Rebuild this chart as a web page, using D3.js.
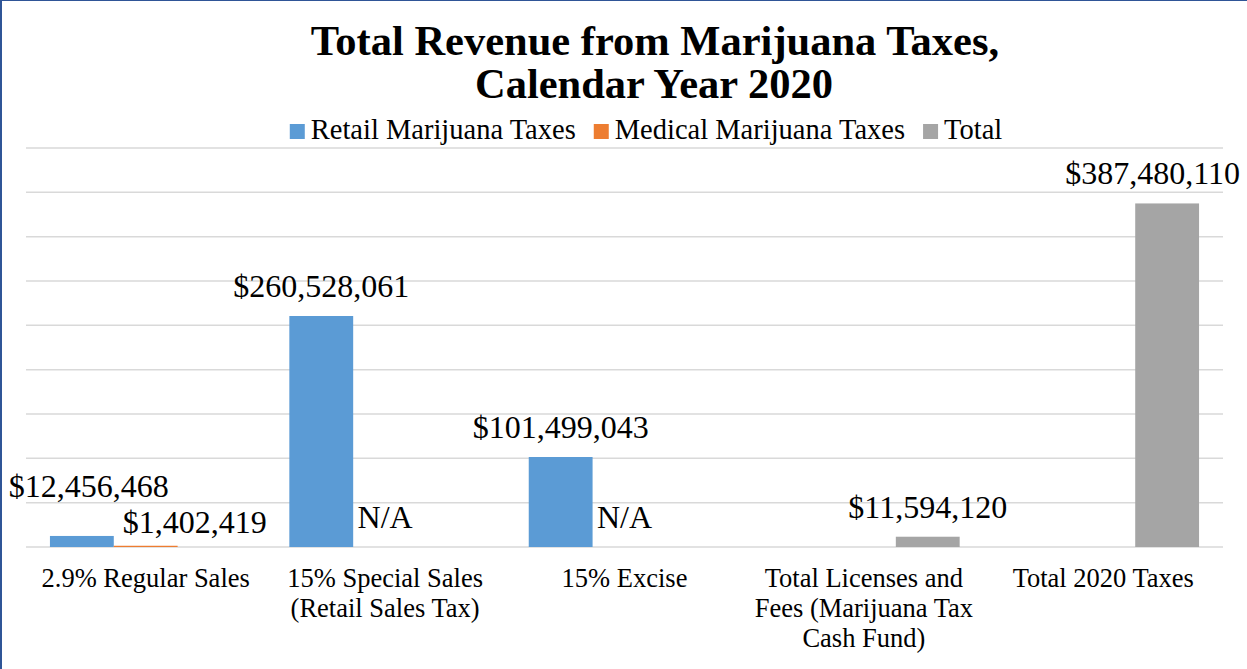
<!DOCTYPE html>
<html>
<head>
<meta charset="utf-8">
<script src="https://cdn.jsdelivr.net/npm/d3@7"></script>
<style>
  html, body { margin: 0; padding: 0; background: #fff; }
  #chart { width: 1247px; height: 669px; }
  text { font-family: "Liberation Serif", "Times New Roman", serif; fill: #000; }
</style>
</head>
<body>
<div id="chart"></div>
<script>
// categories and series
const categories = [
  ["2.9% Regular Sales"],
  ["15% Special Sales", "(Retail Sales Tax)"],
  ["15% Excise"],
  ["Total Licenses and", "Fees (Marijuana Tax", "Cash Fund)"],
  ["Total 2020 Taxes"]
];
const seriesNames = ["Retail Marijuana Taxes", "Medical Marijuana Taxes", "Total"];
const seriesColors = ["#5b9bd5", "#ed7d31", "#a5a5a5"];
// null = no bar; "N/A" shown for missing medical values
const retail  = [12456468, 260528061, 101499043, null, null];
const medical = [1402419, "N/A", "N/A", null, null];
const total   = [null, null, null, 11594120, 387480110];
const yTicks = [0, 50e6, 100e6, 150e6, 200e6, 250e6, 300e6, 350e6, 400e6, 450e6];

const W = 1247, H = 669;
const plot = {left: 26, right: 1223, top: 148, bottom: 547};

const svg = d3.select('#chart').append('svg')
    .attr('width', W)
    .attr('height', H);

// frame (blue edge on left/top like the screenshot)
svg.append('rect').attr('x', 0).attr('y', 0).attr('width', W).attr('height', H).style('fill', '#fff');
svg.append('line').attr('x1', 1).attr('x2', 1).attr('y1', 0).attr('y2', H)
    .style('stroke', '#2f5597').style('stroke-width', 2);
svg.append('line').attr('x1', 0).attr('x2', W).attr('y1', 0.5).attr('y2', 0.5)
    .style('stroke', '#2f5597').style('stroke-width', 1);

// title
svg.append('text')
    .attr('x', 655).attr('y', 55)
    .attr('text-anchor', 'middle')
    .style('font-size', '42.5px').style('font-weight', 'bold')
    .text('Total Revenue from Marijuana Taxes,');
svg.append('text')
    .attr('x', 654).attr('y', 98)
    .attr('text-anchor', 'middle')
    .style('font-size', '42.5px').style('font-weight', 'bold')
    .text('Calendar Year 2020');

// scales
const x0 = d3.scaleBand()
    .domain(d3.range(categories.length))
    .range([plot.left, plot.right])
    .paddingInner(0.2)
    .paddingOuter(0.1);
const x1 = d3.scaleBand()
    .domain(d3.range(seriesNames.length))
    .range([0, x0.bandwidth()]);
const y = d3.scaleLinear()
    .domain([0, 450e6])
    .range([plot.bottom, plot.top]);

// gridlines
svg.append('g')
    .selectAll('line')
    .data(yTicks)
    .join('line')
    .attr('x1', plot.left).attr('x2', plot.right)
    .attr('y1', d => y(d)).attr('y2', d => y(d))
    .style('stroke', '#d9d9d9').style('stroke-width', 1.5);

// legend
const legend = svg.append('g');
let lx = 0;
seriesNames.forEach((name, i) => {
    const g = legend.append('g');
    g.append('rect').attr('x', 0).attr('y', -15).attr('width', 15).attr('height', 15)
        .style('fill', seriesColors[i]);
    const t = g.append('text').attr('x', 21).attr('y', 0)
        .style('font-size', '28.5px').text(name);
    const w = 21 + t.node().getComputedTextLength();
    g.attr('transform', `translate(${lx},0)`);
    lx += w + 18;
});
legend.attr('transform', `translate(${646 - (lx - 18) / 2},139)`);

// bars
const series = [retail, medical, total];
const fmt = d => '$' + d3.format(',')(d);
const bars = svg.append('g');
const labels = svg.append('g');
series.forEach((vals, s) => {
    vals.forEach((v, c) => {
        if (v === null) return;
        const bx = x0(c) + x1(s);
        const cx = bx + x1.bandwidth() / 2;
        if (typeof v === 'number') {
            bars.append('rect')
                .attr('x', bx)
                .attr('y', y(v))
                .attr('width', x1.bandwidth())
                .attr('height', y(0) - y(v))
                .style('fill', seriesColors[s]);
        }
        let lxp = cx, lyp = (typeof v === 'number' ? y(v) : y(0)) - 19;
        // first group labels were nudged apart in the original
        if (c === 0 && s === 0) { lyp -= 20; lxp += 7; }
        if (c === 0 && s === 1) { lyp += 6; lxp += 49; }
        const t = labels.append('text')
            .attr('x', lxp).attr('y', lyp)
            .attr('text-anchor', 'middle')
            .style('font-size', '32px')
            .text(typeof v === 'number' ? fmt(v) : v);
        // keep label inside the chart box
        const half = t.node().getComputedTextLength() / 2;
        if (lxp + half > W - 7) t.attr('x', W - 7 - half);
    });
});

// category labels
const xAxis = svg.append('g');
categories.forEach((lines, c) => {
    const t = xAxis.append('text')
        .attr('x', x0(c) + x0.bandwidth() / 2)
        .attr('y', 587)
        .attr('text-anchor', 'middle')
        .style('font-size', '26.5px');
    lines.forEach((ln, i) => {
        t.append('tspan')
            .attr('x', x0(c) + x0.bandwidth() / 2)
            .attr('dy', i === 0 ? 0 : 30)
            .text(ln);
    });
});
</script>
</body>
</html>
